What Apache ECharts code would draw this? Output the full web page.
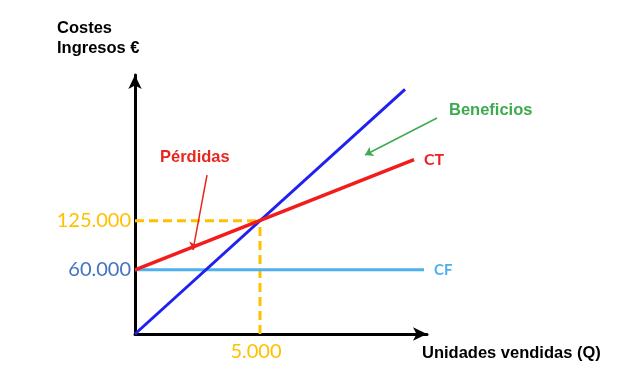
<!DOCTYPE html>
<html><head><meta charset="utf-8">
<script src="https://cdn.jsdelivr.net/npm/echarts@6/dist/echarts.min.js"></script>
<style>html,body{margin:0;padding:0;background:#fff}#c{width:640px;height:386px}</style>
</head><body><div id="c"></div>
<script>
// Data (units Q, euros)
const ingresos = [[0, -25000], [10800, 299000]];      // blue revenue line
const costeTotal = [[0, 60000], [11160, 206000]];     // CT
const costeFijo = [[0, 60000], [11560, 60000]];       // CF
const equilibrioQ = 5000;
const equilibrioEur = 125000;
const cfValue = 60000;
const yTicks = [60000, 125000];
const xTicks = [5000];
const yMin = -25000, yMax = 318000, xMax = 11680;
// annotation arrow ends in data units
const arrowBeneficiosEnd = [9200, 212000];
const arrowPerdidas = [[2880, 185500], [2320, 86200]];

const fmt = v => (v / 1000).toFixed(0) + '.000';
const chart = echarts.init(document.getElementById('c'));
chart.setOption({
  animation: false,
  grid: { left: 135, right: 213, top: 75, bottom: 52 },
  title: [
    { text: 'Costes\nIngresos €', left: 57, top: 18, padding: 0,
      textStyle: { fontFamily: 'Liberation Sans', fontWeight: 'bold', fontSize: 16.5, lineHeight: 20, color: '#000' } },
    { text: 'Unidades vendidas (Q)', left: 422, top: 344, padding: 0,
      textStyle: { fontFamily: 'Liberation Sans', fontWeight: 'bold', fontSize: 16.5, lineHeight: 18, color: '#000' } }
  ],
  graphic: [
    { type: 'text', left: 449, top: 102, style: { text: 'Beneficios', fill: '#3DAA4E', font: 'bold 16.5px "Liberation Sans"' } },
    { type: 'text', left: 160, top: 149, style: { text: 'Pérdidas', fill: '#E8261E', font: 'bold 16.5px "Liberation Sans"' } }
  ],
  xAxis: {
    type: 'value', min: 0, max: xMax,
    axisLine: { onZero: false, lineStyle: { color: '#000', width: 3 }, symbol: ['none', 'arrow'], symbolSize: [10, 14] },
    axisTick: { show: false },
    splitLine: { show: false },
    axisLabel: { customValues: xTicks, formatter: fmt, margin: 8, padding: [0, 8, 0, 0], color: '#FFC000', fontFamily: 'Lato', fontSize: 20 }
  },
  yAxis: {
    type: 'value', min: yMin, max: yMax,
    axisLine: { show: true, onZero: false, lineStyle: { color: '#000', width: 3 }, symbol: ['none', 'arrow'], symbolSize: [10, 14] },
    axisTick: { show: false },
    splitLine: { show: false },
    axisLabel: {
      customValues: yTicks, margin: 4, fontFamily: 'Lato', fontSize: 20,
      formatter: v => v === cfValue ? '{b|' + fmt(v) + '}' : '{o|' + fmt(v) + '}',
      rich: { b: { color: '#4472C4', fontFamily: 'Lato', fontSize: 20 }, o: { color: '#FFC000', fontFamily: 'Lato', fontSize: 20 } }
    }
  },
  series: [
    { type: 'line', data: [[equilibrioQ, yMin], [equilibrioQ, equilibrioEur]], symbol: 'none', silent: true,
      lineStyle: { color: '#FFC000', width: 3, type: [9, 5] } },
    { type: 'line', data: [[0, equilibrioEur], [equilibrioQ, equilibrioEur]], symbol: 'none', silent: true,
      lineStyle: { color: '#FFC000', width: 3, type: [9, 5] } },
    { name: 'CF', type: 'line', data: costeFijo, symbol: 'none', lineStyle: { color: '#4EB0EE', width: 3 },
      endLabel: { show: true, formatter: 'CF', color: '#4EB0EE', fontFamily: 'Lato', fontWeight: 'bold', fontSize: 15, distance: 10 } },
    { name: 'Ingresos', type: 'line', data: ingresos, symbol: 'none', lineStyle: { color: '#2020F0', width: 3 } },
    { name: 'CT', type: 'line', data: costeTotal, symbol: 'none', lineStyle: { color: '#F21C1C', width: 3.5 },
      endLabel: { show: true, formatter: 'CT', color: '#F21C1C', fontFamily: 'Lato', fontWeight: 'bold', fontSize: 16, distance: 10 } },
    { type: 'line', data: [], clip: false, silent: true,
      markLine: { silent: true, symbol: ['none', 'arrow'], symbolSize: 8, label: { show: false }, animation: false,
        data: [
          [{ x: 437, y: 118, lineStyle: { color: '#3DAA4E', width: 1.5, type: 'solid' } }, { coord: arrowBeneficiosEnd }],
          [{ coord: arrowPerdidas[0], lineStyle: { color: '#E8261E', width: 1.5, type: 'solid' } }, { coord: arrowPerdidas[1] }]
        ] } }
  ]
});
</script></body></html>
